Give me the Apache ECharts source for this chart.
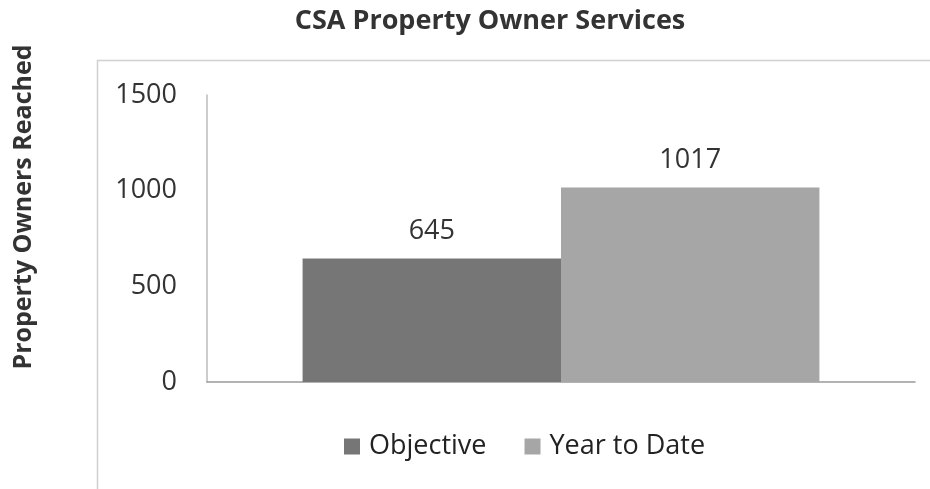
<!DOCTYPE html>
<html><head><meta charset="utf-8">
<script src="https://cdn.jsdelivr.net/npm/echarts@6/dist/echarts.min.js"></script>
<style>html,body{margin:0;padding:0;background:#fff}#c{width:930px;height:489px}</style>
</head><body><div id="c"></div>
<script>
var categories = [''];
var seriesNames = ['Objective', 'Year to Date'];
var objectiveValues = [645];
var yearToDateValues = [1017];
var yTicks = [0, 500, 1000, 1500];
var yAxisTitle = 'Property Owners Reached';

var FONT = '"Open Sans", Lato, sans-serif';
var chart = echarts.init(document.getElementById('c'));
chart.setOption({
  animation: false,
  backgroundColor: '#fff',
  title: {
    text: 'CSA Property Owner Services',
    left: 485, top: 3, textAlign: 'center',
    textStyle: {fontFamily: FONT, fontWeight: 'bold', fontSize: 27, color: '#333'}
  },
  graphic: [{
    type: 'rect', left: 95, top: 58, z: -1,
    shape: {width: 900, height: 500},
    style: {fill: 'none', stroke: '#d0d0d0', lineWidth: 1.5}
  }, {
    type: 'text', x: 24, y: 207, rotation: Math.PI / 2,
    style: {text: yAxisTitle, fontFamily: FONT, fontWeight: 'bold', fontSize: 25, fill: '#333',
      align: 'center', verticalAlign: 'middle'}
  }],
  legend: {
    data: seriesNames, top: 428, left: 339, itemWidth: 16, itemHeight: 16, itemGap: 38,
    icon: 'rect',
    textStyle: {fontFamily: FONT, fontSize: 27, color: '#222', padding: [0, 0, 0, 4]}
  },
  grid: {left: 207, right: 15, top: 95, bottom: 107, containLabel: false},
  xAxis: {
    type: 'category', data: categories,
    axisLine: {lineStyle: {color: '#999', width: 1.5}},
    axisTick: {show: false}, axisLabel: {show: false}
  },
  yAxis: {
    type: 'value', min: yTicks[0], max: yTicks[yTicks.length-1], interval: 500,
    axisLine: {show: true, lineStyle: {color: '#bbb', width: 1.5}},
    axisTick: {show: false}, splitLine: {show: false},
    axisLabel: {fontFamily: FONT, fontSize: 27, color: '#333', margin: 30,
      formatter: function (v) { return String(v); }}
  },
  series: [{
    name: seriesNames[0], type: 'bar', data: objectiveValues,
    barGap: '0%', barCategoryGap: '27%',
    itemStyle: {color: '#767676'},
    label: {show: true, position: 'top', distance: 14, fontFamily: FONT, fontSize: 27, color: '#333'}
  }, {
    name: seriesNames[1], type: 'bar', data: yearToDateValues,
    itemStyle: {color: '#a6a6a6'},
    label: {show: true, position: 'top', distance: 14, fontFamily: FONT, fontSize: 27, color: '#333'}
  }]
});
</script></body></html>
